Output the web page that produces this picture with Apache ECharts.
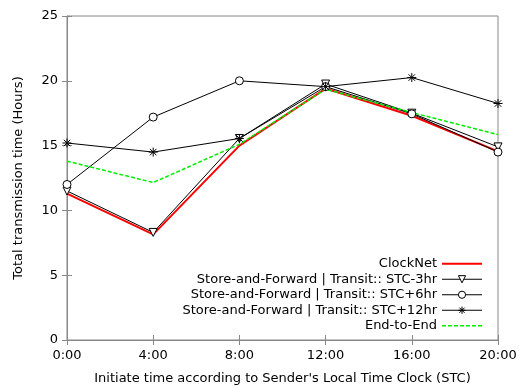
<!DOCTYPE html>
<html><head><meta charset="utf-8">
<script src="https://cdn.jsdelivr.net/npm/echarts@6/dist/echarts.min.js"></script>
<style>html,body{margin:0;padding:0;background:#fff}#c{width:519px;height:388px}</style>
</head><body><div id="c"></div>
<script>
const hours = [0, 4, 8, 12, 16, 20];
const clockNet = [11.3, 8.15, 15.0, 19.4, 17.3, 14.55];
const stcMinus3 = [11.5, 8.3, 15.55, 19.75, 17.5, 14.9];
const stcPlus6 = [12.0, 17.2, 20.0, 19.55, 17.45, 14.5];
const stcPlus12 = [15.2, 14.5, 15.55, 19.55, 20.25, 18.25];
const endToEnd = [13.8, 12.15, 15.1, 19.35, 17.55, 15.85];
const names = ['ClockNet', 'Store-and-Forward | Transit:: STC-3hr', 'Store-and-Forward | Transit:: STC+6hr', 'Store-and-Forward | Transit:: STC+12hr', 'End-to-End'];

const pts = arr => hours.map((h, i) => [h, arr[i]]);
const FONT = 'DejaVu Sans';
const star = 'path://M0,-1L0,1M-1,0L1,0M-0.72,-0.72L0.72,0.72M-0.72,0.72L0.72,-0.72';
const chart = echarts.init(document.getElementById('c'));
const frame = '#888';
const blackItem = { color: '#fff', borderColor: '#000', borderWidth: 1 };
const blackSeries = (name, data, symbol, rot, size) => ({
  name, type: 'line', data: pts(data), symbol, symbolSize: size, symbolRotate: rot,
  showSymbol: true, lineStyle: { color: '#000', width: 1 },
  itemStyle: blackItem,
  emphasis: { disabled: true }
});
chart.setOption({
  animation: false,
  textStyle: { fontFamily: FONT },
  grid: { left: 67, right: 21, top: 16, bottom: 48, show: true, borderColor: frame, borderWidth: 1, containLabel: false, outerBoundsMode: 'none' },
  xAxis: [{
    type: 'value', min: 0, max: 20, interval: 4,
    name: "Initiate time according to Sender's Local Time Clock (STC)",
    nameLocation: 'middle', nameGap: 32,
    nameTextStyle: { fontFamily: FONT, fontSize: 13, color: '#000' },
    axisLine: { lineStyle: { color: frame } },
    axisTick: { inside: true, length: 5, lineStyle: { color: frame } },
    axisLabel: { formatter: v => v + ':00', color: '#000', fontFamily: FONT, fontSize: 13, margin: 9 },
    splitLine: { show: false }
  }, {
    type: 'value', min: 0, max: 20, interval: 4, position: 'top',
    axisLine: { show: false }, axisTick: { inside: true, length: 5, lineStyle: { color: frame } },
    axisLabel: { show: false }, splitLine: { show: false }
  }],
  yAxis: [{
    type: 'value', min: 0, max: 25, interval: 5,
    name: 'Total transmission time (Hours)',
    nameLocation: 'middle', nameGap: 42,
    nameTextStyle: { fontFamily: FONT, fontSize: 13, color: '#000' },
    axisLine: { show: true, lineStyle: { color: frame } },
    axisTick: { show: true, inside: true, length: 5, lineStyle: { color: frame } },
    axisLabel: { color: '#000', fontFamily: FONT, fontSize: 13, margin: 9 },
    splitLine: { show: false }
  }, {
    type: 'value', min: 0, max: 25, interval: 5, position: 'right',
    axisLine: { show: false }, axisTick: { show: true, inside: true, length: 5, lineStyle: { color: frame } },
    axisLabel: { show: false }, splitLine: { show: false }
  }],
  legend: {
    orient: 'vertical', right: 36, top: 257, align: 'right',
    itemWidth: 40, itemHeight: 9, itemGap: 2, padding: 0,
    textStyle: { fontFamily: FONT, fontSize: 13, color: '#000', lineHeight: 13.5 },
    selectedMode: false,
    data: [
      { name: names[0], itemStyle: { opacity: 0 }, lineStyle: { color: '#ff0000', width: 2 } },
      { name: names[1], itemStyle: blackItem, lineStyle: { color: '#000', width: 1 } },
      { name: names[2], itemStyle: blackItem, lineStyle: { color: '#000', width: 1 } },
      { name: names[3], itemStyle: blackItem, lineStyle: { color: '#000', width: 1 } },
      { name: names[4], itemStyle: { opacity: 0 }, lineStyle: { color: '#00ee00', width: 1.5, type: [4, 2] } }
    ]
  },
  series: [
    { name: names[0], type: 'line', data: pts(clockNet), symbol: 'none', lineStyle: { color: '#ff0000', width: 2 }, itemStyle: { color: '#ff0000' }, emphasis: { disabled: true } },
    blackSeries(names[1], stcMinus3, 'triangle', 180, 8),
    blackSeries(names[2], stcPlus6, 'circle', 0, 8),
    blackSeries(names[3], stcPlus12, star, 0, 9),
    { name: names[4], type: 'line', data: pts(endToEnd), symbol: 'none', lineStyle: { color: '#00ee00', width: 1.5, type: [4, 2] }, itemStyle: { color: '#00ee00' }, emphasis: { disabled: true } }
  ]
});
</script></body></html>
